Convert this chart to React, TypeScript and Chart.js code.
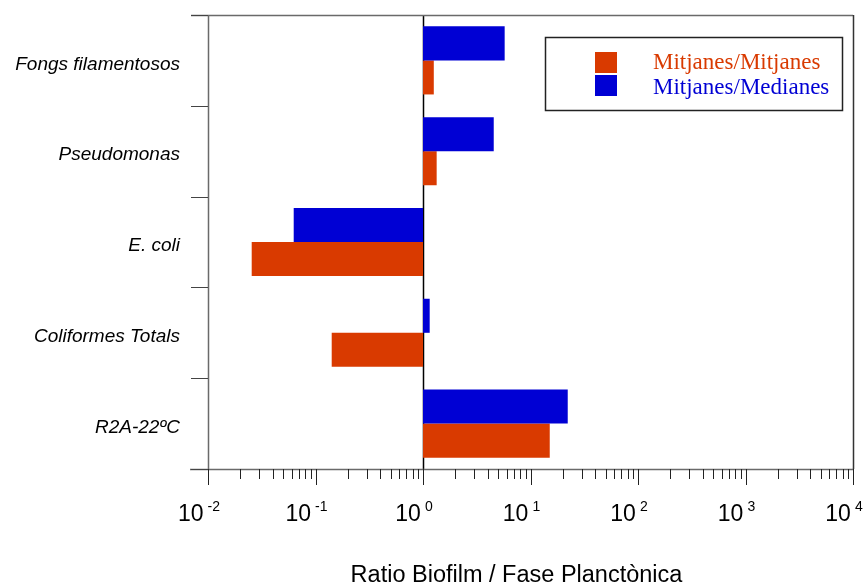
import React, { useEffect, useRef } from "react";
import { Chart, registerables } from "chart.js";

Chart.register(...registerables);

const categories = ["Fongs filamentosos", "Pseudomonas", "E. coli", "Coliformes Totals", "R2A-22ºC"];
const mitjanesMitjanes = [1.26, 1.34, 0.0255, 0.1415, 15.1];
const mitjanesMedianes = [5.75, 4.55, 0.0627, 1.154, 22.2];
const xTickExponents = [-2, -1, 0, 1, 2, 3, 4];
const seriesLabels = ["Mitjanes/Medianes", "Mitjanes/Mitjanes"];
const xAxisTitle = "Ratio Biofilm / Fase Planctònica";

const ORANGE = "#D93A00";
const BLUE = "#0000D4";
const SANS = '"Liberation Sans", Arial, sans-serif';
const SERIF = '"Liberation Serif", "Times New Roman", serif';

const decorPlugin = {
  id: "decor",
  beforeDatasetsDraw(chart: any) {
    const ctx = chart.ctx;
    const xs = chart.scales.x;
    const { top, bottom } = chart.chartArea;
    const x1 = Math.round(xs.getPixelForValue(1)) + 0.5;
    ctx.save();
    ctx.strokeStyle = "#000";
    ctx.lineWidth = 1.5;
    ctx.beginPath();
    ctx.moveTo(x1, top);
    ctx.lineTo(x1, bottom);
    ctx.stroke();
    ctx.restore();
  },
  afterDraw(chart: any) {
    const ctx = chart.ctx;
    const xs = chart.scales.x;
    const ys = chart.scales.y;
    const { left, right, top, bottom } = chart.chartArea;
    ctx.save();

    // frame lines
    ctx.strokeStyle = "#6a6a6a";
    ctx.lineWidth = 1.5;
    ctx.beginPath();
    ctx.moveTo(left - 17, top + 0.5);
    ctx.lineTo(right, top + 0.5);
    ctx.moveTo(left + 0.5, top);
    ctx.lineTo(left + 0.5, bottom);
    ctx.moveTo(left - 18, bottom + 0.5);
    ctx.lineTo(right, bottom + 0.5);
    ctx.stroke();
    ctx.strokeStyle = "#333";
    ctx.beginPath();
    ctx.moveTo(right + 0.5, top);
    ctx.lineTo(right + 0.5, bottom);
    ctx.stroke();

    // left category boundary ticks
    ctx.strokeStyle = "#444";
    ctx.lineWidth = 1.2;
    ctx.beginPath();
    for (let i = 0; i <= categories.length; i++) {
      const y = Math.round(ys.getPixelForValue(i - 0.5)) + 0.5;
      ctx.moveTo(left - 17, y);
      ctx.lineTo(left, y);
    }
    ctx.stroke();

    // bottom log ticks
    ctx.strokeStyle = "#222";
    ctx.lineWidth = 1;
    ctx.beginPath();
    xTickExponents.forEach((e, idx) => {
      const xm = Math.round(xs.getPixelForValue(Math.pow(10, e))) + 0.5;
      ctx.moveTo(xm, bottom);
      ctx.lineTo(xm, bottom + 16);
      if (idx < xTickExponents.length - 1) {
        for (let m = 2; m <= 9; m++) {
          const xx = Math.round(xs.getPixelForValue(m * Math.pow(10, e))) + 0.5;
          ctx.moveTo(xx, bottom);
          ctx.lineTo(xx, bottom + 10);
        }
      }
    });
    ctx.stroke();

    // x tick labels 10^e
    ctx.fillStyle = "#000";
    ctx.textBaseline = "alphabetic";
    ctx.textAlign = "left";
    xTickExponents.forEach((e) => {
      const xm = xs.getPixelForValue(Math.pow(10, e));
      const base = "10";
      const sup = e < 0 ? "-" + Math.abs(e) : String(e);
      ctx.font = "23px " + SANS;
      const wb = ctx.measureText(base).width;
      ctx.font = "14px " + SANS;
      const ws = ctx.measureText(sup).width;
      const gap = 4;
      const total = wb + gap + ws;
      const start = xm - 9 - total / 2;
      ctx.font = "23px " + SANS;
      ctx.fillText(base, start, bottom + 52);
      ctx.font = "14px " + SANS;
      ctx.fillText(sup, start + wb + gap, bottom + 42);
    });

    // category labels
    ctx.font = "italic 19px " + SANS;
    ctx.textAlign = "right";
    ctx.textBaseline = "middle";
    categories.forEach((c, i) => {
      const y = ys.getPixelForValue(i);
      ctx.fillText(c, left - 28, y + 4);
    });

    // axis title
    ctx.font = "23.5px " + SANS;
    ctx.textAlign = "center";
    ctx.textBaseline = "alphabetic";
    ctx.fillText(xAxisTitle, (left + right) / 2 - 14, bottom + 113);

    // legend
    const lx = 545, ly = 37, lw = 297, lh = 73;
    ctx.fillStyle = "#fff";
    ctx.fillRect(lx, ly, lw, lh);
    ctx.strokeStyle = "#222";
    ctx.lineWidth = 1.5;
    ctx.strokeRect(lx + 0.5, ly + 0.5, lw, lh);
    const ds = chart.data.datasets;
    const order = [1, 0];
    ctx.font = "23px " + SERIF;
    ctx.textAlign = "left";
    order.forEach((di, k) => {
      const d = ds[di];
      ctx.fillStyle = d.backgroundColor;
      ctx.fillRect(595, 52 + k * 23, 22, 21);
      ctx.fillText(d.label, 653, 69 + k * 25);
    });

    ctx.restore();
  },
};

export default function App() {
  const canvasRef = useRef<HTMLCanvasElement | null>(null);

  useEffect(() => {
    if (!canvasRef.current) return;
    const chart = new Chart(canvasRef.current, {
      type: "bar",
      data: {
        labels: categories,
        datasets: [
          {
            label: seriesLabels[0],
            data: mitjanesMedianes.map((v) => [1, v]) as any,
            backgroundColor: BLUE,
            borderWidth: 0,
            categoryPercentage: 0.75,
            barPercentage: 1,
          },
          {
            label: seriesLabels[1],
            data: mitjanesMitjanes.map((v) => [1, v]) as any,
            backgroundColor: ORANGE,
            borderWidth: 0,
            categoryPercentage: 0.75,
            barPercentage: 1,
          },
        ],
      },
      options: {
        indexAxis: "y",
        responsive: false,
        animation: false,
        layout: { padding: { left: 208, right: 14, top: 15, bottom: 115 } },
        plugins: { legend: { display: false }, tooltip: { enabled: false } },
        scales: {
          x: { type: "logarithmic", min: 0.01, max: 10000, display: false },
          y: { type: "category", display: false, offset: true },
        },
      },
      plugins: [decorPlugin],
    });
    return () => chart.destroy();
  }, []);

  return (
    <div style={{ position: "absolute", left: 0, top: 0, width: 867, height: 584, background: "#fff" }}>
      <canvas ref={canvasRef} width={867} height={584} style={{ width: 867, height: 584, display: "block" }} />
    </div>
  );
}
